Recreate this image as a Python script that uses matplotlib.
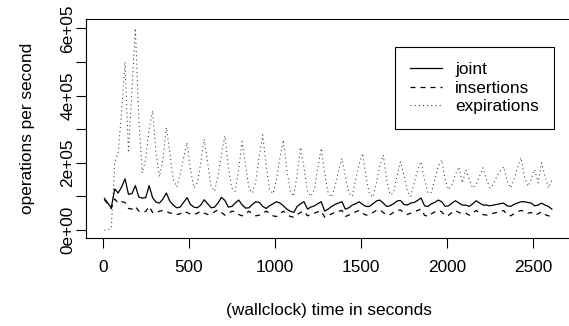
import numpy as np
import matplotlib
matplotlib.use("Agg")
import matplotlib.pyplot as plt

plt.rcParams['font.family'] = ['Liberation Sans', 'DejaVu Sans']

# sample times (seconds), one every 20 s
seconds = np.arange(10, 2611, 20)

# operations per second, in thousands
joint = [
    94, 80, 66, 122, 110, 128, 152, 106, 108, 132,
    98, 95, 96, 132, 96, 83, 80, 92, 110, 86,
    74, 66, 68, 82, 96, 76, 68, 66, 74, 90,
    78, 66, 68, 80, 97, 88, 68, 70, 80, 89,
    75, 65, 66, 76, 84, 82, 70, 64, 72, 78,
    84, 80, 72, 62, 56, 52, 70, 78, 84, 62,
    68, 72, 78, 84, 56, 62, 70, 76, 80, 84,
    62, 66, 74, 78, 84, 76, 70, 70, 78, 86,
    89, 80, 70, 72, 78, 86, 88, 76, 74, 80,
    82, 88, 95, 72, 70, 78, 82, 89, 84, 70,
    72, 80, 87, 80, 74, 74, 70, 78, 87, 80,
    74, 74, 72, 74, 76, 78, 80, 72, 70, 76,
    80, 84, 84, 82, 80, 72, 74, 80, 74, 70,
    62,
]

insertions = [
    90, 78, 64, 92, 80, 84, 82, 64, 62, 70,
    56, 54, 55, 70, 52, 50, 56, 58, 56, 50,
    50, 46, 48, 56, 52, 47, 46, 50, 56, 50,
    46, 48, 54, 60, 52, 44, 48, 56, 54, 46,
    42, 48, 56, 48, 42, 44, 50, 56, 50, 42,
    40, 48, 56, 48, 40, 38, 46, 52, 56, 42,
    46, 50, 54, 56, 38, 42, 48, 52, 56, 58,
    40, 44, 50, 54, 58, 50, 44, 46, 52, 58,
    60, 52, 44, 46, 52, 58, 60, 50, 46, 50,
    54, 58, 62, 44, 40, 48, 54, 58, 54, 42,
    44, 52, 58, 52, 48, 50, 44, 50, 58, 52,
    46, 44, 46, 50, 52, 54, 58, 46, 42, 48,
    54, 58, 56, 50, 52, 44, 48, 54, 46, 42,
    40,
]

expirations = [
    0, 0, 5, 200, 230, 350, 500, 230, 420, 600,
    330, 170, 210, 300, 355, 230, 158, 210, 305, 230,
    150, 128, 165, 215, 260, 180, 125, 140, 200, 270,
    200, 130, 115, 160, 225, 280, 190, 125, 115, 180,
    263, 195, 125, 110, 145, 220, 283, 190, 120, 108,
    150, 215, 268, 180, 115, 100, 165, 246, 185, 115,
    100, 120, 185, 243, 170, 110, 98, 130, 175, 213,
    160, 110, 100, 150, 195, 228, 160, 105, 98, 140,
    190, 223, 150, 105, 110, 160, 203, 165, 115, 100,
    140, 180, 203, 150, 110, 112, 150, 190, 208, 150,
    120, 135, 165, 188, 140, 179, 150, 125, 135, 160,
    185, 150, 125, 135, 160, 175, 188, 145, 125, 150,
    185, 215, 160, 130, 150, 180, 140, 200, 160, 125,
    149,
]

series = [("joint", joint, "-", "black", 0.9),
          ("insertions", insertions, (0, (4, 4)), "black", 0.9),
          ("expirations", expirations, (0, (1, 3)), "#333333", 0.75)]

xticks = [0, 500, 1000, 1500, 2000, 2500]
yticks = [0, 1e5, 2e5, 3e5, 4e5, 5e5, 6e5]
ytick_labels = ["0e+00", "", "2e+05", "", "4e+05", "", "6e+05"]

fig = plt.figure(figsize=(5.69, 3.26), dpi=100)
ax = fig.add_axes([0.1517, 0.2709, 0.853, 0.6709])

for name, vals, ls, col, lw in series:
    ax.plot(seconds, np.array(vals) * 1000, color=col, linestyle=ls,
            linewidth=lw, label=name)

ax.set_xlim(-95, 2725)
ax.set_ylim(-23000, 628000)
ax.set_xticks(xticks)
ax.set_xticklabels([str(x) for x in xticks])
ax.set_yticks(yticks)
ax.set_yticklabels(ytick_labels, rotation=90, va="center")

ax.tick_params(direction="out", length=7, width=0.8, labelsize=12.4)
ax.tick_params(axis="x", pad=9)
ax.tick_params(axis="y", pad=1)
for sp in ax.spines.values():
    sp.set_linewidth(0.8)

ax.set_xlabel("(wallclock) time in seconds", fontsize=12.4, labelpad=20)
ax.set_ylabel("operations per second", fontsize=12.4, labelpad=18)

leg = ax.legend(loc="upper left", bbox_to_anchor=(395 / 569, 1 - 47 / 326),
                bbox_transform=fig.transFigure, fontsize=12.4,
                handlelength=1.9, handletextpad=0.75, borderpad=0.85,
                labelspacing=0.22, borderaxespad=0, fancybox=False,
                framealpha=1)
leg.get_frame().set_edgecolor("black")
leg.get_frame().set_linewidth(0.8)

fig.savefig("out.png", dpi=100)
